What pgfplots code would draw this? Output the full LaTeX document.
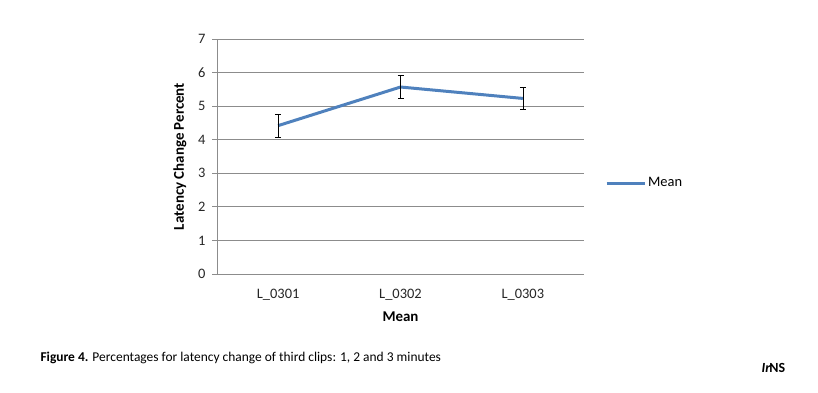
\documentclass[border=0pt]{standalone}
\usepackage{pgfplots}
\pgfplotsset{compat=1.18}
\usepackage{fontspec}
\setmainfont{Carlito}
\definecolor{xlblue}{HTML}{4F81BD}
\definecolor{gridgray}{HTML}{8C8C8C}
\pgfplotstableread{
x y err
0 4.42 0.34
1 5.57 0.34
2 5.23 0.33
}\meandata
\begin{document}
\begin{tikzpicture}[x=1bp,y=1bp]
\path[use as bounding box] (0,0) rectangle (818,392);
\begin{axis}[
  at={(217bp,118bp)}, anchor=south west,
  scale only axis, width=367bp, height=235bp,
  xmin=-0.5, xmax=2.5, ymin=0, ymax=7,
  xtick={0,1,2}, xticklabels={L\_0301,L\_0302,L\_0303},
  ytick={0,1,...,7},
  ymajorgrids, grid style={gridgray, line width=0.8pt},
  axis x line*=bottom, axis y line*=left,
  axis line style={gridgray, line width=0.8pt},
  x axis line style={-}, y axis line style={-},
  xtick style={draw=none},
  ytick style={gridgray, line width=0.8pt},
  tick align=outside, major tick length=5bp,
  ticklabel style={font=\fontsize{14.5}{16}\selectfont, text=black!85},
  xticklabel style={yshift=-7bp},
  yticklabel style={xshift=-3bp},
  /pgf/number format/assume math mode=true,
  xlabel={\textbf{Mean}}, ylabel={\textbf{Latency Change Percent}},
  label style={font=\fontsize{15}{17}\selectfont},
  xlabel style={yshift=-4bp},
  ylabel style={yshift=5bp},
  legend style={at={(1.057,0.387)}, anchor=west, draw=none, fill=none, font=\fontsize{14.5}{16}\selectfont, inner sep=0pt},
  legend image code/.code={\draw[#1] (0bp,0bp) -- (38bp,0bp);},
  legend cell align=left,
  clip=false,
]
\addplot[xlblue, line width=3bp, mark=none,
  error bars/.cd, y dir=both, y explicit,
  error bar style={black, line width=0.6pt},
  error mark options={black, line width=0.6pt, rotate=90, mark size=3bp}]
  table[x=x, y=y, y error=err] {\meandata};
\addlegendentry{Mean}
\end{axis}
\node[anchor=west, font=\fontsize{13.5}{15}\selectfont] at (37bp,34bp) {\textbf{Figure 4.} Percentages for latency change of third clips: 1, 2 and 3 minutes};
\node[anchor=west, font=\bfseries\fontsize{14}{16}\selectfont] at (758bp,24bp) {\textit{Ir}\kern-1pt NS};
\end{tikzpicture}
\end{document}
